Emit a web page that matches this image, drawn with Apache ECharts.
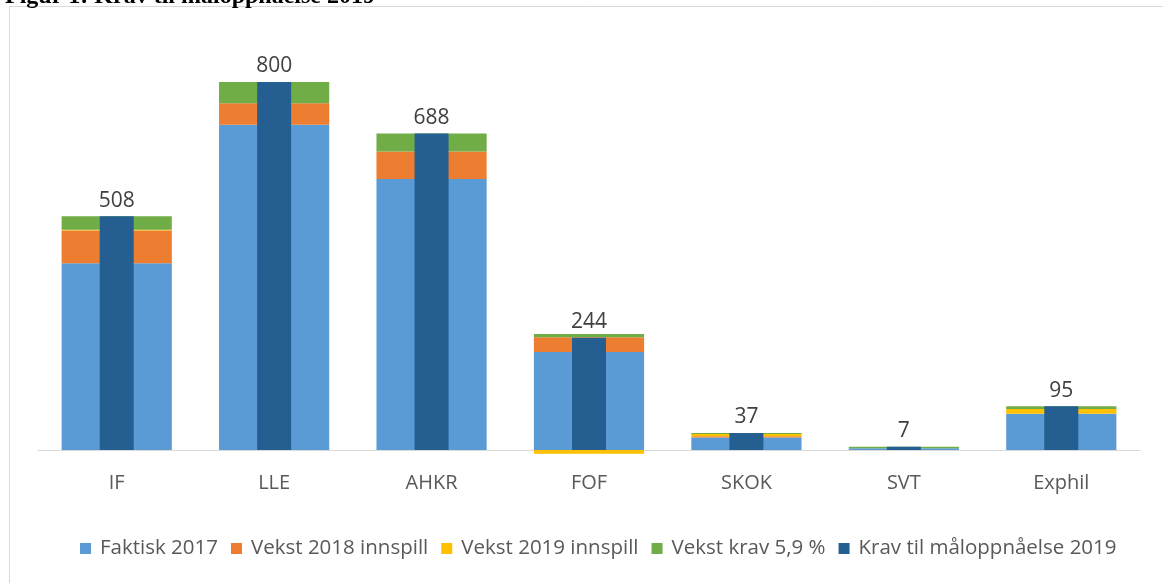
<!DOCTYPE html>
<html>
<head>
<meta charset="utf-8">
<script src="https://cdn.jsdelivr.net/npm/echarts@6/dist/echarts.min.js"></script>
<style>
  html, body { margin: 0; padding: 0; background: #fff; }
  #chart { width: 1163px; height: 583px; }
</style>
</head>
<body>
<div id="chart"></div>
<script>
var categories = ["IF", "LLE", "AHKR", "FOF", "SKOK", "SVT", "Exphil"];
var faktisk2017 = [406, 707, 589, 213, 27, 4, 79];
var vekst2018 = [71, 47, 60, 32, 3, 0, 0];
var vekst2019 = [2, 0, 0, -8, 5, 0, 10];
var vekstKrav = [29, 46, 39, 7, 2, 3, 6];
var kravTotal = [508, 800, 688, 244, 37, 7, 95];

var chart = echarts.init(document.getElementById("chart"));

function stackPart(name, data, color) {
  return {
    name: name,
    type: "bar",
    stack: "sum",
    xAxisIndex: 0,
    barWidth: "70%",
    data: data,
    itemStyle: { color: color },
    emphasis: { disabled: true }
  };
}

var option = {
  animation: false,
  backgroundColor: "#ffffff",
  title: {
    text: "Figur 1: Krav til måloppnåelse 2019",
    left: 0,
    top: -20,
    textStyle: {
      fontFamily: "Liberation Serif",
      fontWeight: "bold",
      fontSize: 24,
      color: "#000"
    }
  },
  graphic: [
    {
      type: "polyline",
      shape: { points: [[9.5, 583], [9.5, 6.5], [1163, 6.5]] },
      style: { stroke: "#d9d9d9", lineWidth: 1, fill: null },
      silent: true
    }
  ],
  grid: { left: 38, right: 23, top: 59, bottom: 110, containLabel: false },
  legend: {
    bottom: 19,
    left: 75,
    itemWidth: 11,
    itemHeight: 11,
    itemGap: 13,
    icon: "rect",
    textStyle: { color: "#595959", fontSize: 20.5, fontFamily: "Open Sans", padding: [0, 0, 0, 4] },
    data: ["Faktisk 2017", "Vekst 2018 innspill", "Vekst 2019 innspill", "Vekst krav 5,9 %", "Krav til måloppnåelse 2019"]
  },
  xAxis: [
    {
      type: "category",
      data: categories,
      axisLine: { lineStyle: { color: "#d9d9d9" } },
      axisTick: { show: false },
      axisLabel: { color: "#595959", fontSize: 20, fontFamily: "Open Sans", margin: 0 }
    },
    {
      type: "category",
      data: categories,
      show: false
    }
  ],
  yAxis: {
    type: "value",
    min: -50,
    max: 850,
    show: false,
    splitLine: { show: false }
  },
  series: [
    stackPart("Faktisk 2017", faktisk2017, "#5b9bd5"),
    stackPart("Vekst 2018 innspill", vekst2018, "#ed7d31"),
    stackPart("Vekst 2019 innspill", vekst2019, "#ffc000"),
    stackPart("Vekst krav 5,9 %", vekstKrav, "#70ad47"),
    {
      name: "Krav til måloppnåelse 2019",
      type: "bar",
      xAxisIndex: 1,
      barWidth: 34,
      data: kravTotal,
      itemStyle: { color: "#255e91" },
      emphasis: { disabled: true },
      label: {
        show: true,
        position: "top",
        distance: 5,
        color: "#404040",
        fontSize: 21,
        fontFamily: "Open Sans"
      }
    }
  ]
};

chart.setOption(option);
</script>
</body>
</html>
